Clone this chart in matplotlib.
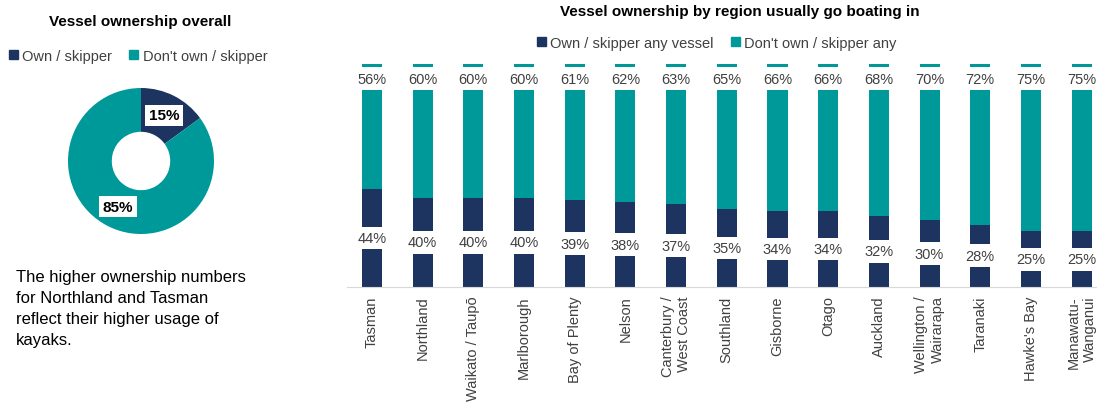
import numpy as np
import matplotlib.pyplot as plt
from matplotlib.patches import Patch

plt.rcParams['font.family'] = ['Liberation Sans', 'DejaVu Sans']

NAVY = '#1d3461'
TEAL = '#00999a'
GREY = '#404040'

# overall ownership
overall_labels = ['Own / skipper', "Don't own / skipper"]
overall_values = [15, 85]

# ownership by region
regions = ['Tasman', 'Northland', 'Waikato / Taupō', 'Marlborough', 'Bay of Plenty',
           'Nelson', 'Canterbury /\nWest Coast', 'Southland', 'Gisborne', 'Otago',
           'Auckland', 'Wellington /\nWairarapa', 'Taranaki', "Hawke's Bay",
           'Manawatu-\nWanganui']
own = [44, 40, 40, 40, 39, 38, 37, 35, 34, 34, 32, 30, 28, 25, 25]
dont_own = [56, 60, 60, 60, 61, 62, 63, 65, 66, 66, 68, 70, 72, 75, 75]

note = ('The higher ownership numbers\nfor Northland and Tasman\n'
        'reflect their higher usage of\nkayaks.')

W, H = 1097, 410
fig = plt.figure(figsize=(W / 100, H / 100), dpi=100)


def px(left, top, width, height):
    return [left / W, 1 - (top + height) / H, width / W, height / H]


# donut
ax_d = fig.add_axes(px(68, 89, 146, 146))
wedges, _, autotexts = ax_d.pie(
    overall_values, colors=[NAVY, TEAL], startangle=90, counterclock=False,
    wedgeprops=dict(width=0.6, edgecolor='none'), autopct='%d%%', pctdistance=0.7)
for t in autotexts:
    t.set_fontsize(11)
    t.set_fontweight('bold')
    t.set_color('black')
    t.set_bbox(dict(boxstyle='square,pad=0.25', fc='white', ec='none'))
ax_d.set_xlim(-1, 1)
ax_d.set_ylim(-1, 1)

fig.text(140 / W, 1 - 22 / H, 'Vessel ownership overall', ha='center', va='center',
         fontsize=11, fontweight='bold', color='black')
fig.legend(handles=[Patch(color=NAVY), Patch(color=TEAL)], labels=overall_labels,
           loc='center', bbox_to_anchor=(138 / W, 1 - 57 / H), ncol=2, frameon=False,
           fontsize=10.5, handlelength=0.6, handleheight=0.6, handletextpad=0.3,
           columnspacing=1.2, labelcolor=GREY)
fig.text(16 / W, 1 - 270 / H, note, ha='left', va='top', fontsize=12,
         linespacing=1.5, color='black')

# stacked bars by region
ax = fig.add_axes(px(346.6, 65, 760.4, 223))
x = np.arange(len(regions))
bw = 0.395
ax.bar(x, own, bw, color=NAVY, label='Own / skipper any vessel')
ax.bar(x, dont_own, bw, bottom=own, color=TEAL, label="Don't own / skipper any")
ax.set_xlim(-0.5, len(regions) - 0.5)
ax.set_ylim(0, 100)

box = dict(boxstyle='square,pad=0.3', fc='white', ec='none')
for xi, o, d in zip(x, own, dont_own):
    ax.text(xi, o / 2, f'{o}%', ha='center', va='center', fontsize=10.5,
            color=GREY, bbox=box)
    ax.annotate(f'{d}%', (xi, o + d), xytext=(0, -10.5), textcoords='offset points',
                ha='center', va='center', fontsize=10.5, color=GREY, bbox=box)

for s in ['top', 'right', 'left']:
    ax.spines[s].set_visible(False)
ax.spines['bottom'].set_color('#d9d9d9')
ax.set_yticks([])
ax.set_xticks(x)
ax.set_xticklabels(regions, rotation=90, fontsize=10.5, color=GREY,
                   multialignment='right')
ax.tick_params(axis='x', length=0, pad=6)

fig.text(740 / W, 1 - 12 / H, 'Vessel ownership by region usually go boating in',
         ha='center', va='center', fontsize=11, fontweight='bold', color='black')
fig.legend(handles=[Patch(color=NAVY), Patch(color=TEAL)],
           labels=['Own / skipper any vessel', "Don't own / skipper any"],
           loc='center', bbox_to_anchor=(717 / W, 1 - 44 / H), ncol=2, frameon=False,
           fontsize=10.5, handlelength=0.6, handleheight=0.6, handletextpad=0.3,
           columnspacing=1.2, labelcolor=GREY)

fig.savefig('out.png', dpi=100)
